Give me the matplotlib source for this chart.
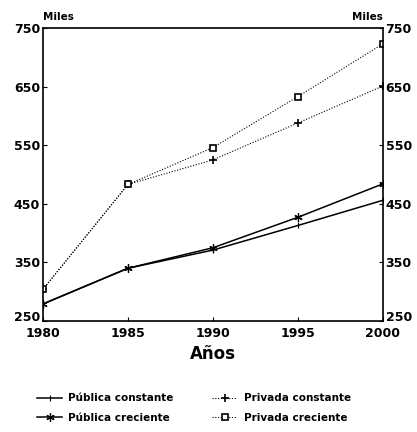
import numpy as np
import matplotlib.pyplot as plt

years = [1980, 1985, 1990, 1995, 2000]
publica_constante = [279, 340, 371, 413, 456]
publica_creciente = [279, 340, 375, 427, 484]
privada_constante = [304, 483, 525, 588, 651]
privada_creciente = [304, 483, 546, 633, 723]

yticks = [250, 350, 450, 550, 650, 750]
xticks = [1980, 1985, 1990, 1995, 2000]

plt.rcParams['font.family'] = 'DejaVu Sans'
plt.rcParams['font.weight'] = 'bold'

fig = plt.figure(figsize=(4.17, 4.32), dpi=100)
ax = fig.add_axes([0.103, 0.257, 0.815, 0.678])

ax.plot(years, publica_constante, color='black', lw=1.1, marker='|', ms=4,
        mew=0.8, label='Pública constante')
ax.plot(years, publica_creciente, color='black', lw=1.1, marker=(6, 2, 0), ms=6,
        mew=0.9, label='Pública creciente')
ax.plot(years, privada_constante, color='black', lw=0.8, ls=(0, (1, 1.5)),
        marker='+', ms=6, mew=1.2, label='Privada constante')
ax.plot(years, privada_creciente, color='black', lw=0.8, ls=(0, (1, 1.5)),
        marker='s', ms=4, mfc='white', mew=1.2, label='Privada creciente')

ax.set_xlim(1980, 2000)
ax.set_ylim(250, 750)
ax.set_xticks(xticks)
ax.set_yticks(yticks)
ax.tick_params(direction='in', length=3, labelsize=9, right=True, labelright=True,
               pad=2)
ax.tick_params(axis='x', pad=4)
for s in ax.spines.values():
    s.set_linewidth(1.2)

# 250 sits just above the axis, as in the original
ticks = ax.yaxis.get_major_ticks()
ticks[0].label1.set_va('baseline')
ticks[0].label2.set_va('baseline')

ax.set_xlabel('Años', fontsize=12, fontweight='bold', labelpad=4)
ax.text(0.0, 1.02, 'Miles', transform=ax.transAxes, ha='left', va='bottom',
        fontsize=7.5, fontweight='bold')
ax.text(1.0, 1.02, 'Miles', transform=ax.transAxes, ha='right', va='bottom',
        fontsize=7.5, fontweight='bold')

handles, labels = ax.get_legend_handles_labels()
fig.legend(handles, labels, ncol=2,
           loc='lower center', bbox_to_anchor=(0.465, 0.0), frameon=False,
           fontsize=7.5, handlelength=2.4, handletextpad=0.6,
           columnspacing=3.7, labelspacing=0.9)

plt.savefig('out.png', dpi=100)
